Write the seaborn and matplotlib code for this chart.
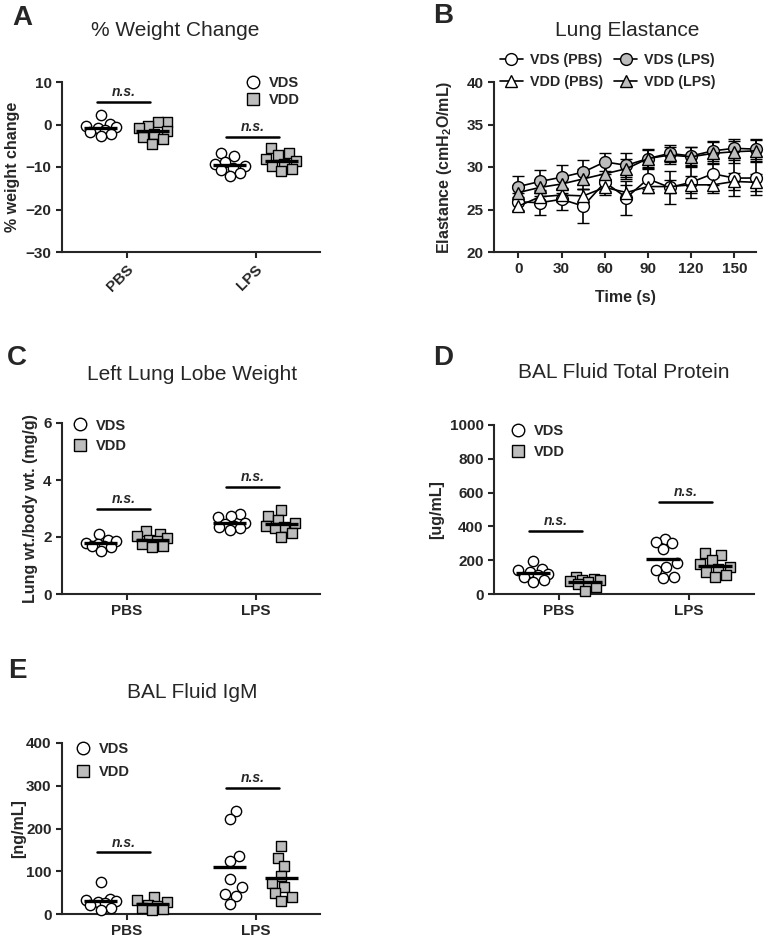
import warnings
import numpy as np
import pandas as pd
import matplotlib
matplotlib.use('Agg')
import matplotlib.pyplot as plt
from matplotlib.lines import Line2D
import seaborn as sns

warnings.filterwarnings('ignore')

groups = ['PBS', 'LPS']
diets = ['VDS', 'VDD']

# A. % weight change
wt_vds_pbs = [2.2, 0.2, -0.3, -0.6, -0.9, -1.2, -1.8, -2.3, -2.8]
wt_vdd_pbs = [0.6, 0.5, -0.3, -0.8, -1.5, -2.2, -3.0, -3.5, -4.5]
wt_vds_lps = [-6.6, -7.5, -8.8, -9.3, -9.8, -10.2, -10.8, -11.5, -12.0]
wt_vdd_lps = [-5.6, -6.8, -7.2, -8.0, -8.5, -9.2, -9.8, -10.5, -11.0]
ns_wt = [5.3, -2.9]

# B. lung elastance (mean, SEM)
time_s = [0, 15, 30, 45, 60, 75, 90, 105, 120, 135, 150, 165]
el_vds_pbs = [25.9, 25.8, 26.2, 25.4, 28.2, 26.4, 28.6, 27.6, 28.2, 29.2, 28.7, 28.7]
el_vds_pbs_sem = [1.0, 1.4, 1.2, 2.0, 1.0, 2.0, 1.2, 1.9, 1.8, 1.3, 2.1, 2.0]
el_vdd_pbs = [25.4, 26.5, 26.7, 26.6, 27.6, 27.0, 27.7, 27.7, 27.9, 27.9, 28.3, 28.2]
el_vdd_pbs_sem = [0.6, 0.8, 0.8, 0.8, 0.9, 0.9, 0.8, 0.8, 1.0, 0.9, 1.0, 1.0]
el_vds_lps = [27.7, 28.3, 28.8, 29.4, 30.6, 30.2, 31.0, 31.6, 31.3, 31.9, 32.2, 32.1]
el_vds_lps_sem = [1.2, 1.4, 1.4, 1.4, 1.1, 1.4, 1.1, 1.0, 1.1, 1.2, 1.1, 1.2]
el_vdd_lps = [27.0, 27.6, 28.0, 28.6, 29.2, 29.8, 31.0, 31.4, 31.2, 31.6, 31.8, 31.9]
el_vdd_lps_sem = [0.9, 1.0, 1.0, 1.2, 1.2, 1.2, 1.0, 1.0, 1.1, 1.3, 1.3, 1.3]

# C. left lung lobe weight
lw_vds_pbs = [2.1, 1.9, 1.85, 1.8, 1.75, 1.7, 1.7, 1.65, 1.5]
lw_vdd_pbs = [2.2, 2.1, 2.05, 1.95, 1.9, 1.85, 1.75, 1.7, 1.65]
lw_vds_lps = [2.8, 2.75, 2.7, 2.5, 2.45, 2.4, 2.35, 2.3, 2.25]
lw_vdd_lps = [2.95, 2.75, 2.6, 2.5, 2.4, 2.35, 2.3, 2.15, 2.0]
ns_lw = [3.0, 3.75]

# D. BAL total protein
tp_vds_pbs = [195, 150, 140, 130, 120, 110, 100, 80, 70]
tp_vdd_pbs = [100, 90, 85, 80, 75, 70, 60, 40, 20]
tp_vds_lps = [325, 305, 300, 265, 185, 160, 140, 100, 95]
tp_vdd_lps = [240, 230, 200, 175, 160, 150, 130, 115, 100]
ns_tp = [375, 546]

# E. BAL IgM
igm_vds_pbs = [75, 35, 33, 30, 28, 25, 20, 15, 10]
igm_vdd_pbs = [40, 33, 28, 22, 18, 15, 12, 10]
igm_vds_lps = [242, 222, 136, 124, 82, 63, 47, 43, 23]
igm_vdd_lps = [160, 132, 113, 90, 72, 63, 49, 40, 30]
ns_igm = [144, 295]

GREY = '#bdbdbd'

sns.set_style('ticks')
plt.rcParams['font.family'] = ['Liberation Sans', 'DejaVu Sans']
plt.rcParams['mathtext.fontset'] = 'custom'
plt.rcParams['mathtext.rm'] = 'Liberation Sans'
plt.rcParams['mathtext.bf'] = 'Liberation Sans:bold'
plt.rcParams['axes.linewidth'] = 1.5
plt.rcParams['xtick.major.width'] = 1.5
plt.rcParams['ytick.major.width'] = 1.5
plt.rcParams['xtick.major.size'] = 4
plt.rcParams['ytick.major.size'] = 4

fig = plt.figure(figsize=(7.68, 9.44), dpi=100)


def add_ax(l, t, r, b):
    return fig.add_axes([l / 768, 1 - b / 944, (r - l) / 768, (b - t) / 944])


def style_ax(ax):
    sns.despine(ax=ax)
    for lab in ax.get_xticklabels() + ax.get_yticklabels():
        lab.set_fontweight('bold')
        lab.set_fontsize(11)


def pack_offsets(ax, vals, gap=10.0, step=1.5, max_off=15.0):
    # Prism-like column scatter: spread close points sideways (pixel space),
    # allowing overlap once the column is full
    ys = ax.transData.transform(np.c_[np.zeros(len(vals)), vals])[:, 1]
    px_per_unit = (ax.transData.transform([[1, 0]]) - ax.transData.transform([[0, 0]]))[0, 0]
    n_side = int(max_off / step)
    cands = [0.0]
    for n in range(1, n_side + 1):
        cands += [n * step, -n * step]
    placed = []
    dx = np.zeros(len(vals))
    for k in np.argsort(ys):
        best, best_d = 0.0, -1.0
        for c in cands:
            d = min([np.hypot(c - px, ys[k] - py) for px, py in placed] or [1e9])
            if d >= gap:
                best = c
                break
            if d > best_d:
                best, best_d = c, d
        placed.append((best, ys[k]))
        dx[k] = best / px_per_unit
    return dx


def column_panel(ax, ylim, v1, v2, v3, v4, ns_y):
    ax.set_xlim(-0.5, 1.5)
    ax.set_ylim(*ylim)
    rows = []
    for i, g in enumerate(groups):
        for j, d in enumerate(diets):
            vals = [v1, v2, v3, v4][2 * i + j]
            xc = i - 0.2 + 0.4 * j
            offs = pack_offsets(ax, vals)
            for v, o in zip(vals, offs):
                rows.append({'group': g, 'diet': d, 'value': v, 'xpos': xc + o})
    df = pd.DataFrame(rows)
    for diet, mk, fc in [('VDS', 'o', 'white'), ('VDD', 's', GREY)]:
        sub = df[df['diet'] == diet]
        sns.scatterplot(data=sub, x='xpos', y='value', marker=mk, color=fc,
                        edgecolor='black', linewidth=1, s=55, ax=ax,
                        legend=False, clip_on=False, zorder=3)
    means = df.groupby(['group', 'diet'])['value'].mean()
    for i, g in enumerate(groups):
        for j, d in enumerate(diets):
            xc = i - 0.2 + 0.4 * j
            ax.hlines(means[(g, d)], xc - 0.13, xc + 0.13, color='black',
                      lw=2.4, zorder=6)
        ax.plot([i - 0.23, i + 0.18], [ns_y[i], ns_y[i]], color='black',
                lw=1.8, clip_on=False)
        ax.annotate('n.s.', (i - 0.025, ns_y[i]), xytext=(0, 2),
                    textcoords='offset points', ha='center', va='bottom',
                    fontsize=10, fontweight='bold', fontstyle='italic')
    ax.set_xticks([0, 1])
    ax.set_xticklabels(groups)
    ax.set_xlim(-0.5, 1.5)
    ax.set_ylim(*ylim)
    ax.set_xlabel('')


def col_legend(ax, anchor, spacing=0.45):
    handles = [Line2D([], [], marker='o', ls='none', mfc='white', mec='black',
                      ms=9, mew=1),
               Line2D([], [], marker='s', ls='none', mfc=GREY, mec='black',
                      ms=8.5, mew=1)]
    ax.legend(handles, diets, loc='upper left', bbox_to_anchor=anchor,
              frameon=False, handletextpad=0.6, borderaxespad=0,
              labelspacing=spacing, handlelength=1.0,
              prop={'weight': 'bold', 'size': 10.5})


def title(x, y, s):
    fig.text(x / 768, 1 - y / 944, s, ha='center', va='center', fontsize=15)


def letter(x, y, s):
    fig.text(x / 768, 1 - y / 944, s, ha='center', va='center', fontsize=20,
             fontweight='bold')


# A
axA = add_ax(62, 82, 320, 252)
column_panel(axA, (-30, 10), wt_vds_pbs, wt_vdd_pbs, wt_vds_lps, wt_vdd_lps, ns_wt)
axA.set_yticks([-30, -20, -10, 0, 10])
axA.set_ylabel('% weight change', fontsize=11.5, fontweight='bold')
style_ax(axA)
for lab in axA.get_xticklabels():
    lab.set_rotation(45)
    lab.set_ha('right')
    lab.set_rotation_mode('anchor')
col_legend(axA, (0.69, 1.07), spacing=0.2)
title(175, 30, '% Weight Change')
letter(22, 18, 'A')

# B
axB = add_ax(494, 82, 756, 252)
series = [
    ('VDS (PBS)', el_vds_pbs, el_vds_pbs_sem, 'o', 'white'),
    ('VDD (PBS)', el_vdd_pbs, el_vdd_pbs_sem, '^', 'white'),
    ('VDS (LPS)', el_vds_lps, el_vds_lps_sem, 'o', GREY),
    ('VDD (LPS)', el_vdd_lps, el_vdd_lps_sem, '^', GREY),
]
handles = {}
for name, m, s, mk, fc in series:
    axB.errorbar(time_s, m, yerr=s, color='black', lw=1.2, elinewidth=1.2,
                 capsize=4, capthick=1.2, marker=mk, mfc=fc, mec='black',
                 ms=8.5, mew=1, clip_on=False)
    handles[name] = Line2D([], [], color='black', lw=1.2, marker=mk, mfc=fc,
                           mec='black', ms=8.5, mew=1)
order = ['VDS (PBS)', 'VDD (PBS)', 'VDS (LPS)', 'VDD (LPS)']
axB.legend([handles[k] for k in order], order, ncol=2, loc='center left',
           bbox_to_anchor=(0.0, 1.065), frameon=False, handlelength=1.6,
           handletextpad=0.5, columnspacing=0.8, labelspacing=0.6,
           borderaxespad=0, prop={'weight': 'bold', 'size': 10.3})
axB.set_xlim(-17, 165)
axB.set_ylim(20, 40)
axB.set_xticks([0, 30, 60, 90, 120, 150])
axB.set_yticks([20, 25, 30, 35, 40])
axB.set_xlabel('Time (s)', fontsize=11.5, fontweight='bold', labelpad=10)
axB.set_ylabel(r'Elastance (cmH$_\mathbf{2}$O/mL)', fontsize=11.5,
               fontweight='bold', labelpad=9)
style_ax(axB)
title(627, 30, 'Lung Elastance')
letter(443, 16, 'B')

# C
axC = add_ax(62, 423, 320, 594)
column_panel(axC, (0, 6), lw_vds_pbs, lw_vdd_pbs, lw_vds_lps, lw_vdd_lps, ns_lw)
axC.set_yticks([0, 2, 4, 6])
axC.set_ylabel('Lung wt./body wt. (mg/g)', fontsize=11.5, fontweight='bold')
style_ax(axC)
col_legend(axC, (0.02, 1.06))
title(192, 375, 'Left Lung Lobe Weight')
letter(17, 358, 'C')

# D
axD = add_ax(494, 425, 754, 594)
column_panel(axD, (0, 1000), tp_vds_pbs, tp_vdd_pbs, tp_vds_lps, tp_vdd_lps, ns_tp)
axD.set_yticks([0, 200, 400, 600, 800, 1000])
axD.set_ylabel('[ug/mL]', fontsize=11.5, fontweight='bold')
style_ax(axD)
col_legend(axD, (0.04, 1.04))
title(624, 372, 'BAL Fluid Total Protein')
letter(443, 358, 'D')

# E
axE = add_ax(62, 743, 320, 914)
column_panel(axE, (0, 400), igm_vds_pbs, igm_vdd_pbs, igm_vds_lps, igm_vdd_lps, ns_igm)
axE.set_yticks([0, 100, 200, 300, 400])
axE.set_ylabel('[ng/mL]', fontsize=11.5, fontweight='bold', labelpad=0)
style_ax(axE)
col_legend(axE, (0.03, 1.04), spacing=0.6)
title(192, 692, 'BAL Fluid IgM')
letter(17, 671, 'E')

fig.savefig('out.png', dpi=100)
